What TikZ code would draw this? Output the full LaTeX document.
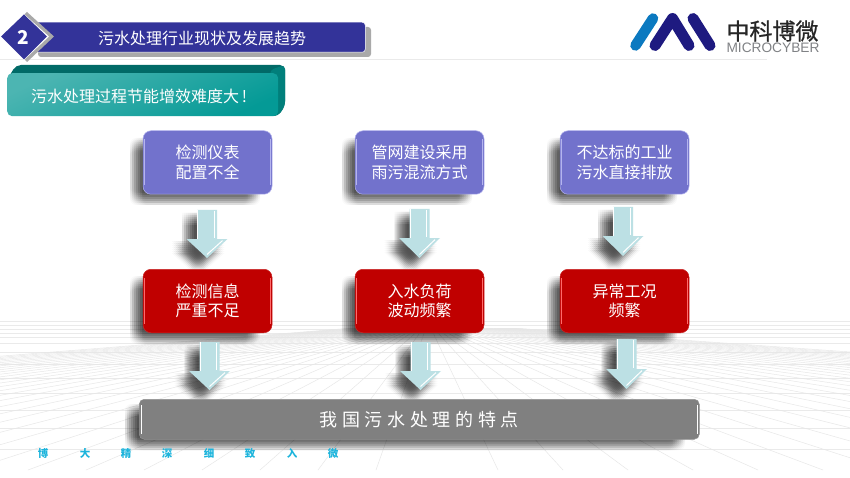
\documentclass[tikz,border=0pt]{standalone}
\usepackage{fontspec}
\setmainfont{Noto Sans CJK SC}
\newfontfamily\latinfont{Liberation Sans}
\usetikzlibrary{calc}
\definecolor{navybar}{HTML}{333399}
\definecolor{chevron}{HTML}{A9A9A9}
\definecolor{gridline}{HTML}{EAEAEA}
\definecolor{gridray}{HTML}{E6E6E6}
\definecolor{purplebox}{HTML}{7272CC}
\definecolor{purpleedge}{HTML}{B4B4EE}
\definecolor{redbox}{HTML}{C00000}
\definecolor{rededge}{HTML}{FF6A6A}
\definecolor{greybox}{HTML}{808080}
\definecolor{arrowfill}{HTML}{BCE0E4}
\definecolor{tealhi}{HTML}{4CB5B2}
\definecolor{tealmid}{HTML}{049A96}
\definecolor{tealtop}{HTML}{016A67}
\definecolor{tealside}{HTML}{017F7B}
\definecolor{logoblue}{HTML}{0B79C0}
\definecolor{logonavy}{HTML}{1E1A80}
\definecolor{footblue}{HTML}{1CB4DC}
\definecolor{logotext}{HTML}{808285}
\tikzset{
  cardbox/.style={rounded corners=8pt, minimum width=129pt, minimum height=63.5pt, inner sep=0pt,
    text=white, align=center, font=\fontsize{16}{19.5}\selectfont},
  purplecard/.style={cardbox, fill=purplebox, draw=purpleedge, line width=.5pt},
  redcard/.style={cardbox, fill=redbox, draw=redbox!85!white, line width=.5pt},
  footchar/.style={text=footblue, font=\fontsize{10.5}{10.5}\selectfont\bfseries, inner sep=0pt},
  gridstroke/.style={draw=gridline, line width=.45pt},
  raystroke/.style={draw=gridray, line width=.45pt},
}
% soft shadow: many faint offset copies of the closed path #1
\newcommand{\softshade}[1]{%
  \foreach \dx in {-6,-4,-2,0,2,4,6}{\foreach \dy in {-6,-4,-2,0,2,4,6}{%
    \fill[black, fill opacity=.02, shift={(\dx,\dy)}] #1;
  }}%
}
\newcommand{\shadowbox}[4]{\softshade{[rounded corners=6pt] (#1,#2) rectangle (#3,#4)}}
% block arrow: centre x, top y, head y, bottom y, half shaft, half head
\newcommand{\blockarrow}[6]{%
  \softshade{(#1-9-#5,#2+9) -- (#1-9+#5,#2+9) -- (#1-9+#5,#3+8) -- (#1-9+#6,#3+8) -- (#1-9,#4+8) -- (#1-9-#6,#3+8) -- (#1-9-#5,#3+8) -- cycle}
  \fill[arrowfill] (#1-#5,#2) -- (#1+#5,#2) -- (#1+#5,#3) -- (#1+#6,#3) -- (#1,#4) -- (#1-#6,#3) -- (#1-#5,#3) -- cycle;
  \draw[white, line width=.9pt] (#1-#5+.6,#2) -- (#1-#5+.6,#3);
  \draw[white, line width=1.1pt] (#1+#5-2.6,#2+1) -- (#1+#5-2.6,#3-1);
  \draw[white, line width=1pt] (#1+#6-5,#3+1.6) -- (#1,#4-3.5);
}
\begin{document}
\begin{tikzpicture}[x=1pt,y=-1pt]
\useasboundingbox (0,0) rectangle (850,478);
\fill[white] (0,0) rectangle (850,478);

% floor grid
\coordinate (vp) at (428,322);
\foreach \yy in {321,325,329,333,337,343,352,364,378,393,410,428,449}{
  \draw[gridstroke] (0,\yy) -- (850,\yy);
}
\begin{scope}
\clip (0,328) rectangle (850,470);
\foreach \k in {1,...,32}{
  \draw[raystroke] (vp) -- (431-58*\k+3,470);
  \draw[raystroke] (vp) -- (438+65*\k-5,470);
}
\end{scope}

% header
\draw[gridline, line width=1pt] (0,60) -- (767,60);
\fill[chevron, rounded corners=3pt] (38,27) -- (371,27) -- (371,57) -- (38,57) -- cycle;
\node[fill=navybar, rounded corners=3pt, minimum width=330pt, minimum height=30pt, inner sep=0pt,
  draw=white, line width=.5pt, anchor=north west] (titlebar) at (35,22) {};
\node[text=white, font=\fontsize{16}{16}\selectfont, inner sep=0pt] (titletext) at (202,38.5) {污水处理行业现状及发展趋势};
\fill[chevron] (27,12) -- (54,36.5) -- (27,62) -- (21,56) -- (44,36.5) -- (21,18) -- cycle;
\fill[white] (24,14) -- (49,36.5) -- (24,60) -- (0,36.5) -- cycle;
\coordinate (badgecentre) at (24,36.5);
\fill[navybar] (badgecentre) ++(0,-22) -- ++(23,22) -- ++(-23,23) -- ++(-23,-23) -- cycle;
\node[text=white, font=\fontsize{19}{19}\selectfont\bfseries, inner sep=0pt] (badge) at (23,37) {2};

% teal heading block
\fill[tealtop, rounded corners=5pt] (7,80) -- (16,65) -- (285,65) -- (285,106) -- (278,116) -- (20,116) -- cycle;
\fill[tealside, rounded corners=4pt] (278,116) -- (270,116) -- (270,70) -- (285,65) -- (285,106) -- cycle;
\node[rounded corners=5pt, minimum width=271pt, minimum height=43pt, inner sep=0pt, anchor=north west,
  top color=tealhi, bottom color=tealmid, shading angle=25] (headbox) at (7,73) {};
\node[text=white, font=\fontsize{16}{16}\selectfont, inner sep=0pt, anchor=west] (headtext) at (31,96) {污水处理过程节能增效难度大\,!};

% logo
\draw[logoblue, line width=10.5pt, line cap=round] (635.5,45.5) -- (653,18.5);
\draw[logonavy, line width=11pt, line cap=round, line join=round] (655,45.5) -- (672.5,18.5) -- (689,45.5);
\draw[logonavy, line width=11pt, line cap=round] (693,18.5) -- (710,45.5);
\node[inner sep=0pt, font=\fontsize{23}{23}\selectfont\addfontfeature{FakeBold=.7}, text=black!85] (logocn) at (772.5,31) {中科博微};
\node[inner sep=0pt, font=\fontsize{13.7}{13.7}\selectfont\latinfont, text=logotext] (logoen) at (773,48) {MICROCYBER};

% shadows of cards
\shadowbox{136}{144}{254}{199}
\shadowbox{348}{144}{466}{199}
\shadowbox{553}{144}{671}{199}
\shadowbox{136}{282}{254}{338}
\shadowbox{348}{282}{466}{338}
\shadowbox{553}{282}{671}{338}
\shadowbox{131}{410}{679}{444}

% arrows
\blockarrow{207}{210}{239}{258}{10}{20.5}
\blockarrow{419.5}{209}{238}{258}{10}{20.5}
\blockarrow{623}{207}{236}{256}{10}{20.5}
\blockarrow{209.5}{342}{371}{390}{10}{20.5}
\blockarrow{420.5}{342}{371}{390}{10}{20.5}
\blockarrow{626.5}{339}{369}{389}{10}{20.5}

% cards
\node[purplecard] (p1) at (207.5,162.5) {检测仪表\\配置不全};
\node[purplecard] (p2) at (419.5,162.5) {管网建设采用\\雨污混流方式};
\node[purplecard] (p3) at (624.5,162.5) {不达标的工业\\污水直接排放};
\node[redcard] (r1) at (207.5,301) {检测信息\\严重不足};
\node[redcard] (r2) at (419.5,301) {入水负荷\\波动频繁};
\node[redcard] (r3) at (624.5,301) {异常工况\\频繁};
\foreach \n in {p1,p2,p3}{
  \draw[purpleedge, line width=1.2pt] ($(\n.north east)+(-1.5,9)$) -- ($(\n.south east)+(-1.5,-9)$);
  \draw[purpleedge, line width=.9pt] ($(\n.north west)+(1.2,9)$) -- ($(\n.south west)+(1.2,-9)$);
}
\foreach \n in {r1,r2,r3}{
  \draw[rededge, line width=1.2pt] ($(\n.north east)+(-1.5,9)$) -- ($(\n.south east)+(-1.5,-9)$);
  \draw[rededge, line width=.8pt] ($(\n.north west)+(1.2,9)$) -- ($(\n.south west)+(1.2,-9)$);
}

% summary bar
\node[rounded corners=5pt, fill=greybox, draw=greybox!85!white, line width=.5pt, minimum width=560pt, minimum height=40pt,
  inner sep=0pt, anchor=north west, text=white] (summary) at (139,399)
  {\raisebox{-1.5pt}{\fontsize{18}{18}\selectfont\addfontfeature{LetterSpace=26}我国污水处理的特点}};
\draw[white, line width=1pt] ($(summary.north east)+(-2,6)$) -- ($(summary.south east)+(-2,-6)$);
\draw[white, line width=1pt] ($(summary.north west)+(2,6)$) -- ($(summary.south west)+(2,-6)$);

% footer
\node[footchar] (f1) at (43,453.5) {博};
\node[footchar] (f2) at (85,453.5) {大};
\node[footchar] (f3) at (126,453.5) {精};
\node[footchar] (f4) at (167,453.5) {深};
\node[footchar] (f5) at (209,453.5) {细};
\node[footchar] (f6) at (250,453.5) {致};
\node[footchar] (f7) at (292,453.5) {入};
\node[footchar] (f8) at (333,453.5) {微};
\end{tikzpicture}
\end{document}
